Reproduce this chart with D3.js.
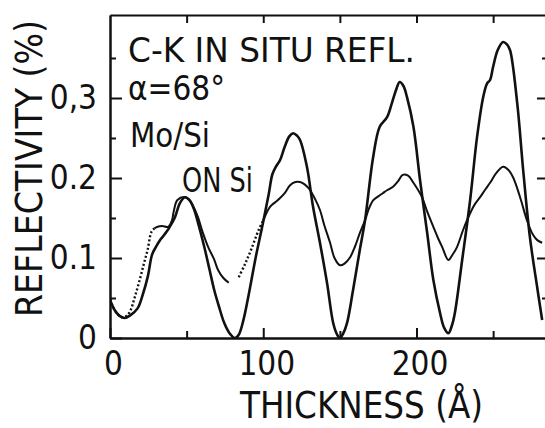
<!DOCTYPE html>
<html>
<head>
<meta charset="utf-8">
<script src="https://cdn.jsdelivr.net/npm/d3@7"></script>
<style>
body { margin: 0; background: #fff; }
text { font-family: "DejaVu Sans Condensed", "Liberation Sans Narrow", sans-serif; fill: #111; }
.axis path, .axis line { stroke: #111; stroke-width: 2; }
</style>
</head>
<body>
<div id="chart"></div>
<script>
// thickness (A), reflectivity (%)
var theoryCurve = [
    [0,0.048],[3,0.035],[6,0.028],[9.5,0.025],[13,0.028],[18,0.037],[21.5,0.055],[24.8,0.078],
    [27.4,0.104],[30,0.114],[32.5,0.122],[34.6,0.127],[37,0.133],[39,0.139],[42.4,0.151],[45.7,0.169],
    [49,0.176],[52,0.172],[55,0.16],[58,0.14],[61.5,0.114],[65,0.085],[68,0.06],[71,0.04],
    [74.5,0.019],[78,0.006],[81.5,0],[84,0.004],[87,0.022],[90.5,0.054],[95,0.1],[99.5,0.141],
    [103.5,0.179],[106,0.205],[108.5,0.215],[111,0.2225],[114,0.239],[117,0.252],[119.5,0.256],[122,0.253],
    [124,0.2475],[128.5,0.214],[132.5,0.164],[137,0.119],[141.6,0.069],[145.6,0.019],[148,0.005],[150,0],
    [152,0.005],[154.7,0.019],[158.6,0.06],[163,0.11],[166.4,0.147],[171.7,0.226],[176,0.264],[180.8,0.276],
    [184,0.294],[187,0.312],[189,0.32],[191.5,0.315],[193.8,0.301],[198,0.264],[202.3,0.1975],[207,0.131],
    [211,0.0725],[215.4,0.031],[218,0.013],[220.8,0.006],[223,0.015],[225,0.031],[229.8,0.0975],[235,0.1725],
    [239.5,0.251],[243.5,0.301],[246,0.318],[248,0.3225],[250,0.339],[253,0.36],[256.5,0.37],[259,0.367],
    [261,0.36],[265.7,0.294],[269.6,0.21],[274,0.126],[278.7,0.064],[282,0.0225]
];

// measured curve, dotted and solid stretches as in the scan
var measuredDotted1 = [
    [0,0.048],[4,0.032],[8,0.026],[11,0.028],[13.5,0.035],[16,0.05],[19,0.07],[22,0.092],
    [24.5,0.11],[27,0.1325],[29,0.137]
];
var measuredSolid1 = [
    [29,0.137],[31,0.139],[34,0.14],[38,0.139],[40.5,0.1475],[41.5,0.1575],[44,0.1725],[49,0.176],
    [52,0.172],[55,0.162],[57.4,0.151],[60.5,0.132],[64,0.114],[68,0.098],[70.5,0.085],[74,0.075],[77.5,0.069]
];
var measuredDotted2 = [
    [84,0.076],[88,0.092],[92,0.11],[97,0.135],[100,0.147]
];
var measuredSolid2 = [
    [100,0.147],[104.4,0.164],[108,0.17],[111,0.175],[114,0.181],[117.5,0.191],[121,0.195],[124,0.195],
    [127,0.192],[130.5,0.185],[134,0.173],[137,0.16],[140,0.14],[143.6,0.119],[146.5,0.1],[150,0.091],
    [153,0.093],[156.7,0.101],[160,0.115],[163,0.131],[166.4,0.147],[169,0.162],[171.7,0.172],[175,0.177],
    [178,0.181],[181,0.185],[184.7,0.189],[188,0.196],[191,0.204],[194.5,0.203],[198,0.194],[203.6,0.176],
    [207,0.158],[211,0.139],[214,0.125],[216.7,0.114],[220.8,0.0975],[223.5,0.104],[226.5,0.114],[230.4,0.135],
    [235,0.156],[238,0.167],[241.5,0.176],[245,0.186],[248,0.194],[252,0.206],[256.5,0.214],[260,0.21],
    [263,0.201],[267.6,0.176],[272,0.1475],[276,0.129],[279,0.122],[282,0.119]
];

var xMajorTicks = [0, 100, 200];
var xMinorTicks = [50, 150, 250];
var yMajorTicks = [0, 0.1, 0.2, 0.3];
var yMajorLabels = ["0", "0.1", "0.2", "0,3"];
var yMinorTicks = [0.05, 0.15, 0.25, 0.35];
var annotationLines = ["C-K IN SITU REFL.", "\u03b1=68\u00b0", "Mo/Si", "ON Si"];

var width = 545, height = 428;
var margin = {top: 15, left: 110};
var plotRight = 546, plotBottom = 338;

var svg = d3.select("#chart").append("svg")
    .attr("width", width)
    .attr("height", height);

var x = d3.scaleLinear().domain([0, 284.5]).range([margin.left, plotRight]);
var y = d3.scaleLinear().domain([0, 0.40375]).range([plotBottom, margin.top]);

svg.append("defs").append("clipPath").attr("id", "plotClip")
    .append("rect")
    .attr("x", margin.left).attr("y", margin.top - 5)
    .attr("width", plotRight - margin.left).attr("height", plotBottom - margin.top + 5);

//left axis, ticks inward
var leftAxis = svg.append("g").attr("class", "axis")
    .attr("transform", "translate(" + margin.left + ",0)")
    .call(d3.axisLeft(y).tickValues(yMajorTicks).tickSize(-12).tickSizeOuter(0).tickPadding(14)
        .tickFormat(function(d, i){ return yMajorLabels[i]; }));
svg.append("g").attr("class", "axis")
    .attr("transform", "translate(" + margin.left + ",0)")
    .call(d3.axisLeft(y).tickValues(yMinorTicks).tickSize(-6).tickSizeOuter(0).tickFormat(""));

//bottom axis
var bottomAxis = svg.append("g").attr("class", "axis")
    .attr("transform", "translate(0," + plotBottom + ")")
    .call(d3.axisBottom(x).tickValues(xMajorTicks).tickSize(-10).tickSizeOuter(0).tickPadding(14));
svg.append("g").attr("class", "axis")
    .attr("transform", "translate(0," + plotBottom + ")")
    .call(d3.axisBottom(x).tickValues(xMinorTicks).tickSize(-7).tickSizeOuter(0).tickFormat(""));

//top and right frame
svg.append("g").attr("class", "axis")
    .attr("transform", "translate(0," + margin.top + ")")
    .call(d3.axisTop(x).tickValues(xMinorTicks.concat([100, 200])).tickSize(-8).tickSizeOuter(0).tickFormat(""));
svg.append("g").attr("class", "axis")
    .attr("transform", "translate(" + plotRight + ",0)")
    .call(d3.axisRight(y).tickValues(yMajorTicks.slice(1)).tickSize(-9).tickSizeOuter(0).tickFormat(""));
svg.append("g").attr("class", "axis")
    .attr("transform", "translate(" + plotRight + ",0)")
    .call(d3.axisRight(y).tickValues(yMinorTicks).tickSize(-4).tickSizeOuter(0).tickFormat(""));

svg.selectAll(".axis text")
    .style("font-size", "33px")
    .style("font-family", null);
leftAxis.selectAll("text").attr("dx", "1");
bottomAxis.selectAll("text").attr("dx", "3");

//curves
var line = d3.line()
    .x(function(d){ return x(d[0]); })
    .y(function(d){ return y(d[1]); })
    .curve(d3.curveCatmullRom);

var curves = svg.append("g").attr("clip-path", "url(#plotClip)");
curves.append("path").datum(theoryCurve)
    .attr("d", line).attr("fill", "none").attr("stroke", "#111")
    .attr("stroke-width", 2.6).attr("stroke-linejoin", "round");
[measuredSolid1, measuredSolid2].forEach(function(seg){
    curves.append("path").datum(seg)
        .attr("d", line).attr("fill", "none").attr("stroke", "#111")
        .attr("stroke-width", 2).attr("stroke-linejoin", "round");
});
[measuredDotted1, measuredDotted2].forEach(function(seg){
    curves.append("path").datum(seg)
        .attr("d", line).attr("fill", "none").attr("stroke", "#111")
        .attr("stroke-width", 2.4).attr("stroke-dasharray", "2,2.2");
});

//axis titles
svg.append("text").text("THICKNESS (\u00c5)")
    .attr("x", 240).attr("y", 418)
    .attr("textLength", 243).attr("lengthAdjust", "spacingAndGlyphs")
    .style("font-size", "37px");
svg.append("text").text("REFLECTIVITY (%)")
    .attr("transform", "translate(42,317) rotate(-90)")
    .attr("textLength", 297).attr("lengthAdjust", "spacingAndGlyphs")
    .style("font-size", "37px");

//annotation
var annotX = [128, 128, 130, 182];
var annotY = [62, 100, 147, 192];
var annotW = [287, 97, 80, 71];
svg.selectAll(".annot").data(annotationLines).enter().append("text")
    .attr("class", "annot")
    .attr("x", function(d, i){ return annotX[i]; })
    .attr("y", function(d, i){ return annotY[i]; })
    .attr("textLength", function(d, i){ return annotW[i]; })
    .attr("lengthAdjust", "spacingAndGlyphs")
    .style("font-size", "33px")
    .text(function(d){ return d; });
</script>
</body>
</html>
